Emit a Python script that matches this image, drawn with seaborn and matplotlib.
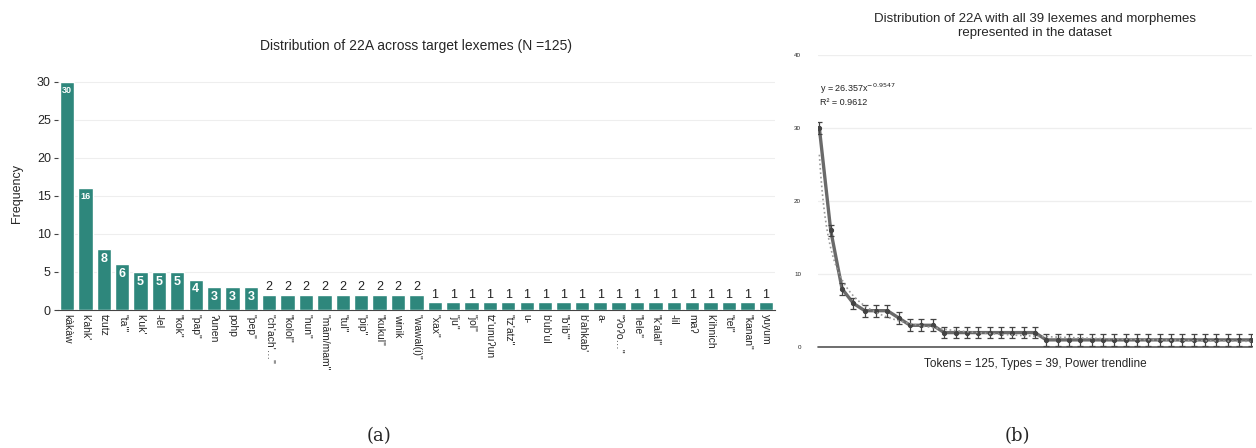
import numpy as np
import pandas as pd
import seaborn as sns
import matplotlib.pyplot as plt

# lexemes and their 22A counts
lexemes = ["kàkàw", "k'ahk'", "tzutz", "\"ta'\"", "k'uk'", "-lel", "\"kok\"", "\"pap\"",
           "ʔunen", "pohp", "\"pep\"", "\"ch'ach'…\"", "\"kolol\"", "\"nun\"", "\"mām/mam\"",
           "\"tul\"", "\"pip\"", "\"kukul\"", "winik", "\"wawal(i)\"", "\"xax\"", "\"ju\"",
           "\"jol\"", "tz'unuʔun", "\"tz'atz\"", "u-", "b'ub'ul", "\"b'ib'\"", "b'ahkab'",
           "a-", "\"ʔoʔo…\"", "\"lele\"", "\"k'alal\"", "-lil", "maʔ", "k'ihnich",
           "\"tel\"", "\"kanan\"", "yuyum"]
freq = [30, 16, 8, 6, 5, 5, 5, 4, 3, 3, 3, 2, 2, 2, 2, 2, 2, 2, 2, 2,
        1, 1, 1, 1, 1, 1, 1, 1, 1, 1, 1, 1, 1, 1, 1, 1, 1, 1, 1]
rank = list(range(1, len(freq) + 1))

# power trendline shown on the chart
trend_a = 26.357
trend_b = -0.9547
err = 0.8

teal = "#2e877c"
df = pd.DataFrame({"lexeme": lexemes, "freq": freq, "rank": rank})

sns.set_style("white")
plt.rcParams['font.family'] = ['Liberation Sans', 'DejaVu Sans']

fig = plt.figure(figsize=(12.56, 4.48), dpi=100)

# (a) bar chart
ax1 = fig.add_axes([0.046, 0.308, 0.571, 0.518])
sns.barplot(data=df, x="lexeme", y="freq", color=teal, width=0.78,
            saturation=1, ax=ax1, zorder=3)
ax1.set_ylim(0, 30.5)
ax1.set_xlim(-0.5, len(freq) - 0.5)
ax1.set_yticks([0, 5, 10, 15, 20, 25, 30])
ax1.yaxis.grid(True, color="#eeeeee", lw=0.8)
ax1.tick_params(axis="y", labelsize=9, length=3, pad=2, left=True, color="#444")
ax1.tick_params(axis="x", labelsize=7.5, rotation=-90, length=0, pad=3)
for lab in ax1.get_xticklabels():
    lab.set_ha("center")
    lab.set_va("top")
for s in ["top", "right", "left"]:
    ax1.spines[s].set_visible(False)
ax1.spines["bottom"].set_color("#444")
ax1.set_xlabel("")
ax1.set_ylabel("Frequency", fontsize=9, labelpad=10)
ax1.set_title("Distribution of 22A across target lexemes (N =125)", fontsize=10, pad=20)

for i, v in enumerate(freq):
    if v >= 3:
        fs = 6.5 if v >= 10 else 9
        ax1.text(i, v - 0.5, str(v), ha="center", va="top", color="white",
                 fontsize=fs, fontweight="bold", zorder=4)
    else:
        ax1.text(i, v + 0.2, str(v), ha="center", va="bottom", color="#222",
                 fontsize=9, zorder=4)

# (b) line chart with error bars and power trendline
ax2 = fig.add_axes([0.651, 0.225, 0.346, 0.652])
ax2.errorbar(rank, freq, yerr=err, fmt="none", ecolor="#444", elinewidth=0.9,
             capsize=2.5, capthick=0.9, zorder=3)
sns.lineplot(data=df, x="rank", y="freq", color="#6a6a6a", lw=2.4, marker="o",
             markersize=3, markerfacecolor="#444", markeredgecolor="#444", ax=ax2, zorder=2)
xs = np.linspace(1, len(freq), 300)
ax2.plot(xs, trend_a * xs ** trend_b, ls=":", color="#999", lw=1.2, zorder=4)
ax2.set_xlim(0.85, len(freq) + 0.15)
ax2.set_ylim(0, 40)
ax2.set_yticks([0, 10, 20, 30, 40])
ax2.set_xticks([])
ax2.yaxis.grid(True, color="#eeeeee", lw=0.9)
ax2.axhline(0, color="#555", lw=1.2, zorder=1, clip_on=False)
ax2.tick_params(axis="y", labelsize=4.5, length=0, pad=12)
for s in ["top", "right", "left", "bottom"]:
    ax2.spines[s].set_visible(False)
ax2.set_ylabel("")
ax2.set_xlabel("Tokens = 125, Types = 39, Power trendline", fontsize=8.5, labelpad=8)
ax2.set_title("Distribution of 22A with all 39 lexemes and morphemes\nrepresented in the dataset",
              fontsize=9.5, pad=14)
ax2.text(1.1, 35.0, "y = %.3fx$^{%.4f}$" % (trend_a, trend_b), fontsize=6.5, color="#222")
ax2.text(1.1, 33.2, "R² = 0.9612", fontsize=6.5, color="#222")

fig.text(0.302, 0.015, "(a)", fontsize=13, family="DejaVu Serif", ha="center")
fig.text(0.81, 0.015, "(b)", fontsize=13, family="DejaVu Serif", ha="center")

fig.savefig("out.png", dpi=100)
